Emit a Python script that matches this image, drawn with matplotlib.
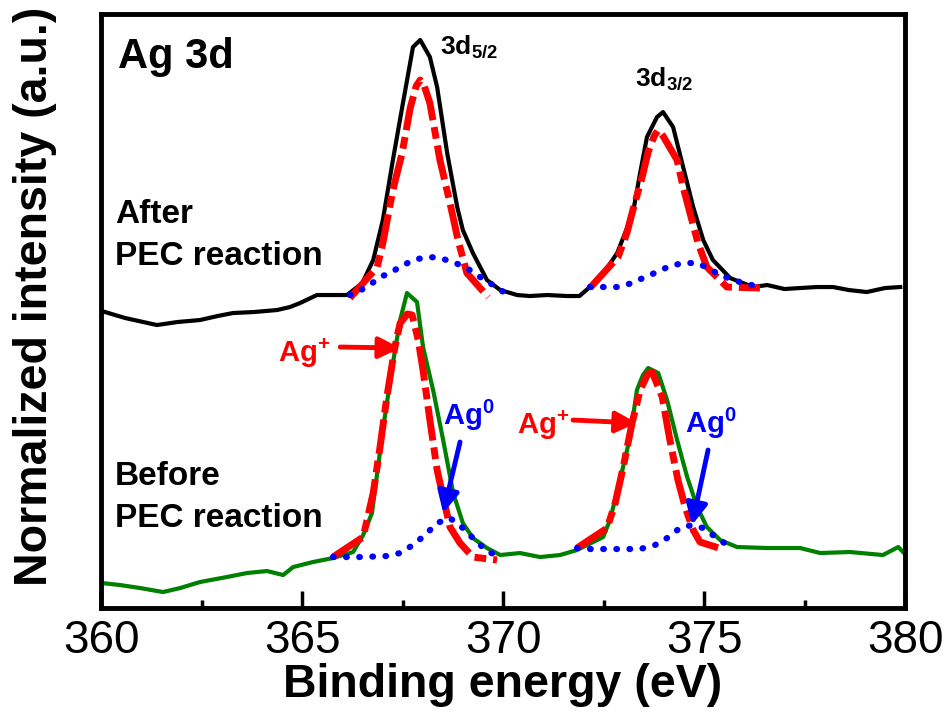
import numpy as np
import matplotlib
matplotlib.use('Agg')
import matplotlib.pyplot as plt

# After PEC reaction (measured, black)
after_x = [360.10, 360.60, 361.39, 361.90, 362.46, 362.90, 363.28, 363.80, 364.38, 364.70, 364.95,
           365.37, 365.80, 366.12, 366.50, 366.77, 367.01, 367.26, 367.51, 367.76, 367.94, 368.18,
           368.36, 368.61, 368.86, 369.00, 369.25, 369.60, 369.93, 370.35, 370.67, 371.10, 371.59,
           371.90, 372.16, 372.50, 372.84, 373.23, 373.41, 373.58, 373.83, 373.98, 374.23, 374.48,
           374.73, 374.98, 375.22, 375.65, 376.22, 376.57, 377.00, 377.39, 377.80, 378.21, 378.60,
           379.05, 379.50, 379.88]
after_y = [2.96, 2.90, 2.83, 2.86, 2.88, 2.92, 2.95, 2.96, 2.98, 3.01, 3.05,
           3.13, 3.13, 3.13, 3.25, 3.48, 3.88, 4.48, 5.05, 5.61, 5.68, 5.51,
           5.21, 4.55, 4.01, 3.78, 3.55, 3.28, 3.18, 3.13, 3.12, 3.13, 3.12,
           3.12, 3.21, 3.35, 3.55, 3.95, 4.35, 4.71, 4.91, 4.96, 4.81, 4.41,
           4.01, 3.68, 3.48, 3.30, 3.21, 3.23, 3.19, 3.20, 3.21, 3.21, 3.18,
           3.16, 3.20, 3.21]

# Before PEC reaction (measured, green)
before_x = [360.02, 360.47, 360.97, 361.54, 361.97, 362.46, 363.13, 363.63, 364.13, 364.53, 364.78,
            365.27, 365.77, 366.27, 366.52, 366.74, 367.01, 367.26, 367.44, 367.61, 367.86, 368.01,
            368.26, 368.51, 368.76, 369.00, 369.25, 369.60, 369.93, 370.42, 370.92, 371.42, 371.84,
            372.49, 372.66, 372.91, 373.16, 373.33, 373.48, 373.61, 373.86, 374.08, 374.33, 374.58,
            374.83, 375.07, 375.40, 375.82, 376.57, 377.39, 377.89, 378.63, 379.45, 379.83, 379.95]
before_y = [0.25, 0.23, 0.20, 0.16, 0.20, 0.26, 0.31, 0.35, 0.37, 0.33, 0.41,
            0.46, 0.50, 0.56, 0.73, 0.95, 1.78, 2.45, 2.88, 3.15, 3.06, 2.61,
            2.18, 1.68, 1.15, 0.85, 0.70, 0.60, 0.53, 0.55, 0.51, 0.53, 0.58,
            0.71, 0.88, 1.28, 1.71, 2.18, 2.33, 2.40, 2.35, 2.08, 1.68, 1.31,
            1.01, 0.81, 0.68, 0.61, 0.60, 0.60, 0.55, 0.56, 0.53, 0.61, 0.56]

# Ag+ fits (red)
after_ag1_52_x = [366.19, 366.87, 367.01, 367.26, 367.49, 367.69, 367.84, 367.94, 368.04, 368.18, 368.43, 368.68, 368.88, 369.10, 369.63]
after_ag1_52_y = [3.10, 3.41, 3.65, 4.18, 4.55, 5.00, 5.22, 5.28, 5.22, 5.05, 4.48, 4.05, 3.68, 3.35, 3.11]
after_ag1_32_x = [372.16, 372.86, 373.08, 373.23, 373.46, 373.61, 373.76, 373.86, 373.98, 374.33, 374.48, 374.65, 374.85, 375.07, 375.57, 376.39]
after_ag1_32_y = [3.20, 3.51, 3.75, 3.98, 4.31, 4.56, 4.72, 4.78, 4.72, 4.48, 4.21, 3.95, 3.65, 3.41, 3.21, 3.20]
before_ag1_52_x = [365.77, 366.52, 366.77, 366.94, 367.11, 367.31, 367.44, 367.62, 367.74, 367.89, 368.01, 368.18, 368.36, 368.51, 368.68, 368.93, 369.25, 369.85]
before_ag1_52_y = [0.51, 0.71, 1.15, 1.61, 2.11, 2.61, 2.85, 2.94, 2.93, 2.68, 2.38, 1.88, 1.38, 1.11, 0.81, 0.65, 0.51, 0.48]
before_ag1_32_x = [371.84, 372.59, 372.79, 372.99, 373.21, 373.41, 373.60, 373.71, 373.96, 374.15, 374.35, 374.53, 374.73, 374.90, 375.45]
before_ag1_32_y = [0.60, 0.80, 1.05, 1.41, 1.85, 2.18, 2.34, 2.36, 2.11, 1.68, 1.28, 1.01, 0.78, 0.66, 0.59]

# Ag0 fits (blue)
after_ag0_52_x = [366.19, 366.62, 366.94, 367.19, 367.51, 367.86, 368.18, 368.43, 368.76, 369.10, 369.43, 369.75, 370.05]
after_ag0_52_y = [3.13, 3.21, 3.31, 3.35, 3.43, 3.49, 3.51, 3.50, 3.46, 3.40, 3.31, 3.23, 3.15]
after_ag0_32_x = [372.16, 372.59, 372.86, 373.21, 373.48, 373.83, 374.15, 374.48, 374.83, 375.10, 375.40, 375.72, 376.07, 376.39]
after_ag0_32_y = [3.21, 3.21, 3.21, 3.25, 3.30, 3.36, 3.42, 3.45, 3.45, 3.40, 3.33, 3.28, 3.24, 3.21]
before_ag0_52_x = [365.77, 366.44, 367.11, 367.44, 367.76, 368.06, 368.36, 368.68, 369.00, 369.35, 369.63, 369.93]
before_ag0_52_y = [0.51, 0.51, 0.52, 0.55, 0.63, 0.73, 0.85, 0.90, 0.80, 0.66, 0.56, 0.52]
before_ag0_32_x = [371.84, 372.16, 372.74, 373.41, 373.78, 374.08, 374.40, 374.70, 374.98, 375.32, 375.65]
before_ag0_32_y = [0.60, 0.59, 0.59, 0.59, 0.63, 0.70, 0.80, 0.83, 0.80, 0.70, 0.61]

plt.rcParams['font.family'] = ['Liberation Sans', 'DejaVu Sans']
plt.rcParams['mathtext.fontset'] = 'custom'
plt.rcParams['mathtext.bf'] = 'Liberation Sans:bold'
plt.rcParams['mathtext.rm'] = 'Liberation Sans:bold'

fig = plt.figure(figsize=(9.47, 7.16), dpi=100)
ax = fig.add_axes([0.1067, 0.1508, 0.849, 0.8296])

ax.plot(after_x, after_y, color='black', lw=3)
ax.plot(before_x, before_y, color='#008000', lw=3)

redStyle = dict(color='red', lw=5, dashes=(5, 1, 1.7, 1), dash_capstyle='butt')
blueStyle = dict(color='blue', lw=4.5, linestyle=(0, (0.1, 2.0)), dash_capstyle='round')
for xs, ys in [(after_ag1_52_x, after_ag1_52_y), (after_ag1_32_x, after_ag1_32_y),
               (before_ag1_52_x, before_ag1_52_y), (before_ag1_32_x, before_ag1_32_y)]:
    ax.plot(xs, ys, **redStyle)
for xs, ys in [(after_ag0_52_x, after_ag0_52_y), (after_ag0_32_x, after_ag0_32_y),
               (before_ag0_52_x, before_ag0_52_y), (before_ag0_32_x, before_ag0_32_y)]:
    ax.plot(xs, ys, **blueStyle)

ax.set_xlim(360, 380)
ax.set_ylim(0, 5.94)
ax.set_xticks([360, 365, 370, 375, 380])
ax.set_xticks([362.5, 367.5, 372.5, 377.5], minor=True)
ax.set_yticks([])
ax.tick_params(axis='x', which='major', direction='in', length=12, width=2.5, labelsize=33, pad=8)
ax.tick_params(axis='x', which='minor', direction='in', length=6, width=2.5)
for s in ax.spines.values():
    s.set_linewidth(3.5)

ax.set_xlabel('Binding energy (eV)', fontsize=33.5, fontweight='bold', labelpad=0)
fig.text(35 / 947, 1 - 296 / 716, 'Normalized intensity (a.u.)', fontsize=33.5, fontweight='bold',
         rotation=90, ha='center', va='center')

# Labels
bold = dict(fontweight='bold', va='baseline', ha='left')
ax.text(360.42, 5.40, 'Ag 3d', fontsize=30, **bold)
ax.text(368.43, 5.55, r'3d$_{\mathbf{5/2}}$', fontsize=19, **bold)
ax.text(373.28, 5.23, r'3d$_{\mathbf{3/2}}$', fontsize=19, **bold)
ax.text(360.35, 3.85, 'After', fontsize=24, **bold)
ax.text(360.35, 3.43, 'PEC reaction', fontsize=24, **bold)
ax.text(360.35, 1.23, 'Before', fontsize=24, **bold)
ax.text(360.35, 0.81, 'PEC reaction', fontsize=24, **bold)

ax.text(364.40, 2.46, r'Ag$^{\mathbf{+}}$', fontsize=21, color='red', **bold)
ax.text(370.35, 1.74, r'Ag$^{\mathbf{+}}$', fontsize=21, color='red', **bold)
ax.text(368.51, 1.83, r'Ag$^{\mathbf{0}}$', fontsize=21, color='blue', **bold)
ax.text(374.53, 1.75, r'Ag$^{\mathbf{0}}$', fontsize=21, color='blue', **bold)

arrowRed = dict(arrowstyle='-|>', color='red', lw=3.5, mutation_scale=32, shrinkA=0, shrinkB=0)
arrowBlue = dict(arrowstyle='-|>', color='blue', lw=3.5, mutation_scale=32, shrinkA=0, shrinkB=0)
ax.annotate('', xy=(367.44, 2.60), xytext=(365.95, 2.61), arrowprops=arrowRed)
ax.annotate('', xy=(373.33, 1.85), xytext=(371.74, 1.88), arrowprops=arrowRed)
ax.annotate('', xy=(368.51, 0.95), xytext=(368.93, 1.66), arrowprops=arrowBlue)
ax.annotate('', xy=(374.70, 0.83), xytext=(375.10, 1.58), arrowprops=arrowBlue)

fig.savefig('out.png', dpi=100)
